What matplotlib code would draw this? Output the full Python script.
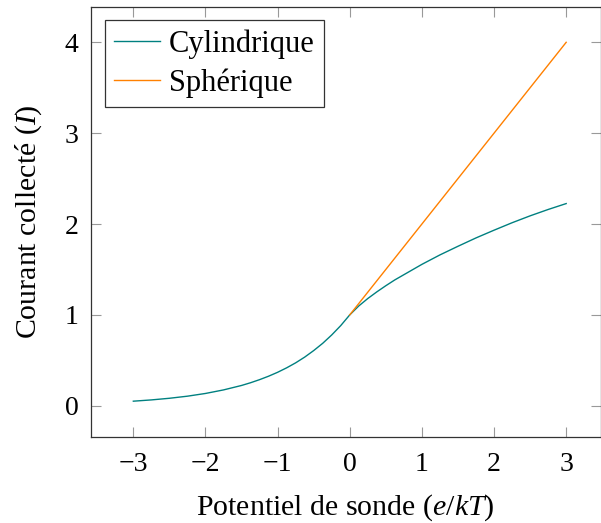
import numpy as np
import matplotlib.pyplot as plt

v_cyl = [-3.0, -2.75, -2.5, -2.25, -2.0, -1.75, -1.5, -1.375, -1.25, -1.125, -1.0, -0.875,
         -0.75, -0.625, -0.5, -0.375, -0.25, -0.125, 0.0, 0.125, 0.25, 0.375, 0.5, 0.625,
         0.75, 0.875, 1.0, 1.25, 1.5, 1.75, 2.0, 2.25, 2.5, 2.75, 3.0]
i_cyl = [0.05, 0.064, 0.082, 0.105, 0.135, 0.174, 0.223, 0.253, 0.287, 0.325, 0.368, 0.417,
         0.472, 0.535, 0.607, 0.687, 0.779, 0.882, 1.0, 1.098, 1.18, 1.253, 1.321, 1.385,
         1.442, 1.499, 1.556, 1.66, 1.755, 1.847, 1.932, 2.014, 2.09, 2.16, 2.225]

v_sph = [0.0, 1.0, 2.0, 3.0]
i_sph = [1.0, 2.0, 3.0, 4.0]

plt.rcParams['font.family'] = 'Liberation Serif'
plt.rcParams['mathtext.fontset'] = 'custom'
plt.rcParams['mathtext.rm'] = 'Liberation Serif'
plt.rcParams['mathtext.it'] = 'Liberation Serif:italic'
plt.rcParams['font.size'] = 20

fig = plt.figure(figsize=(6.01, 5.23), dpi=100)
ax1 = fig.add_axes([0.1514, 0.165, 0.8478, 0.8222])
ax1.plot(v_cyl, i_cyl, color='#008080', lw=1.0, label='Cylindrique')
ax1.plot(v_sph, i_sph, color='#ff8000', lw=1.0, label='Sphérique')
ax1.set_xlim(-3.587, 3.476)
ax1.set_ylim(-0.341, 4.392)
ax1.set_xticks(np.arange(-3, 4, 1))
ax1.set_yticks(np.arange(0, 5, 1))
ax1.set_xticklabels(['\u22123', '\u22122', '\u22121', '0', '1', '2', '3'])
ax1.tick_params(direction='in', length=7, width=0.8, color='#999999',
                top=True, right=True)
ax1.tick_params(axis='x', pad=11)
ax1.tick_params(axis='y', pad=9)
for s in ax1.spines.values():
    s.set_color('#333333')
    s.set_linewidth(0.9)
ax1.set_xlabel(r'Potentiel de sonde ($e/kT$)', fontsize=21.5, labelpad=11)
ax1.set_ylabel(r'Courant collecté ($I$)', fontsize=21.5, labelpad=15)
leg = ax1.legend(loc='upper left', fancybox=False, edgecolor='#333333',
                 framealpha=1, fontsize=22, handlelength=1.5, handletextpad=0.3,
                 labelspacing=0.3, borderpad=0.3, borderaxespad=0.45)
leg.get_frame().set_linewidth(0.9)
fig.savefig('out.png', dpi=100)
